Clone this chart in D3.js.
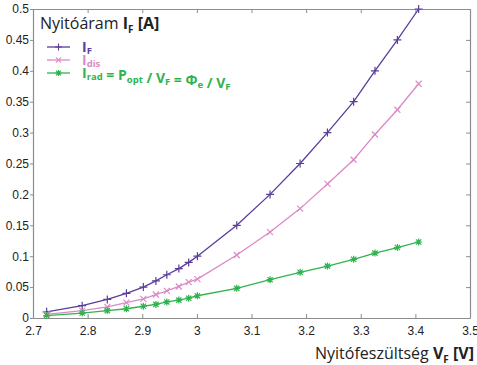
<!DOCTYPE html>
<html>
<head>
<meta charset="utf-8">
<script src="https://cdn.jsdelivr.net/npm/d3@7"></script>
<style>
  body { margin: 0; background: #fff; }
  svg { font-family: "Open Sans", sans-serif; }
  .axis path, .axis line { stroke: #8c8c8c; }
  .axis text { fill: #222; font-size: 12px; }
</style>
</head>
<body>
<div id="chart"></div>
<script>
// forward voltage (V) of each measured point
var vF = [2.725, 2.790, 2.836, 2.871, 2.902, 2.925, 2.945, 2.967, 2.985, 3.001,
          3.073, 3.134, 3.189, 3.239, 3.287, 3.326, 3.367, 3.406];
// forward current I_F (A)
var iF = [0.01, 0.02, 0.03, 0.04, 0.05, 0.06, 0.07, 0.08, 0.09, 0.10,
          0.15, 0.20, 0.25, 0.30, 0.35, 0.40, 0.45, 0.50];
// dissipated part I_dis (A)
var iDis = [0.006, 0.012, 0.018, 0.025, 0.031, 0.038, 0.044, 0.051, 0.058, 0.063,
            0.102, 0.139, 0.177, 0.217, 0.256, 0.297, 0.337, 0.379];
// radiated part I_rad (A)
var iRad = [0.004, 0.008, 0.012, 0.015, 0.019, 0.022, 0.026, 0.029, 0.032, 0.036,
            0.048, 0.062, 0.074, 0.084, 0.095, 0.105, 0.114, 0.123];

var xTicks = [2.7, 2.8, 2.9, 3.0, 3.1, 3.2, 3.3, 3.4, 3.5];
var yTicks = [0, 0.05, 0.1, 0.15, 0.2, 0.25, 0.3, 0.35, 0.4, 0.45, 0.5];

var W = 477, H = 365;
var margin = {top: 9, right: 7, bottom: 47, left: 33};
var width = W - margin.left - margin.right,
    height = H - margin.top - margin.bottom;

var svg = d3.select("#chart").append("svg")
    .attr("width", W)
    .attr("height", H);
var g = svg.append("g")
    .attr("transform", "translate(" + margin.left + "," + margin.top + ")");

var x = d3.scaleLinear().domain([2.7, 3.5]).range([0, width]);
var y = d3.scaleLinear().domain([0, 0.5]).range([height, 0]);

var fmt = function(d) { return d3.format("~g")(+d.toFixed(2)); };

// axes (box with ticks)
g.append("g").attr("class", "axis")
    .attr("transform", "translate(0," + height + ")")
    .call(d3.axisBottom(x).tickValues(xTicks).tickFormat(fmt)
        .tickSizeInner(-4).tickSizeOuter(0).tickPadding(8));
g.append("g").attr("class", "axis")
    .call(d3.axisLeft(y).tickValues(yTicks).tickFormat(fmt)
        .tickSizeInner(3).tickSizeOuter(0).tickPadding(1));
g.append("g").attr("class", "axis")
    .call(d3.axisTop(x).tickValues(xTicks).tickFormat("")
        .tickSizeInner(-4).tickSizeOuter(0));
g.append("g").attr("class", "axis")
    .attr("transform", "translate(" + width + ",0)")
    .call(d3.axisRight(y).tickValues(yTicks).tickFormat("")
        .tickSizeInner(-4).tickSizeOuter(0));
g.selectAll(".axis .domain").attr("stroke-width", 1.2);

var series = [
  {key: "F", values: iF, color: "#5a3c9a", marker: "plus"},
  {key: "dis", values: iDis, color: "#dc8ac6", marker: "cross"},
  {key: "rad", values: iRad, color: "#2fb34e", marker: "star"}
];

var line = d3.line()
    .x(function(d) { return x(d[0]); })
    .y(function(d) { return y(d[1]); });

function markerPath(type, s) {
  var p = "M" + (-s) + ",0H" + s + "M0," + (-s) + "V" + s;
  var k = s * 0.75;
  var xx = "M" + (-k) + "," + (-k) + "L" + k + "," + k + "M" + (-k) + "," + k + "L" + k + "," + (-k);
  if (type === "plus") return p;
  if (type === "cross") return xx;
  return p + xx;
}

series.forEach(function(s) {
  var pts = vF.map(function(v, i) { return [v, s.values[i]]; });
  g.append("path")
      .datum(pts)
      .attr("fill", "none")
      .attr("stroke", s.color)
      .attr("stroke-width", 1.3)
      .attr("d", line);
  g.selectAll(".m-" + s.key)
      .data(pts)
    .enter().append("path")
      .attr("class", "m-" + s.key)
      .attr("transform", function(d) { return "translate(" + x(d[0]) + "," + y(d[1]) + ")"; })
      .attr("d", markerPath(s.marker, s.marker === "star" ? 3.5 : 4))
      .attr("stroke", s.color)
      .attr("stroke-width", 1.2)
      .attr("fill", "none");
});

// y title inside the plot
var yt = svg.append("text")
    .attr("x", 40).attr("y", 29)
    .attr("fill", "#222")
    .style("font-size", "16px");
yt.append("tspan").text("Nyitóáram ");
yt.append("tspan").attr("font-weight", "bold").text("I");
yt.append("tspan").attr("font-weight", "bold").attr("dy", 4).style("font-size", "10px").text("F");
yt.append("tspan").attr("font-weight", "bold").attr("dy", -4).text(" [A]");

// x title
var xt = svg.append("text")
    .attr("x", 474).attr("y", 359)
    .attr("text-anchor", "end")
    .attr("fill", "#222")
    .style("font-size", "16px");
xt.append("tspan").text("Nyitófeszültség ");
xt.append("tspan").attr("font-weight", "bold").text("V");
xt.append("tspan").attr("font-weight", "bold").attr("dy", 4).style("font-size", "10px").text("F");
xt.append("tspan").attr("font-weight", "bold").attr("dy", -4).text(" [V]");

// legend
var legend = svg.append("g").attr("transform", "translate(47,47)");
series.forEach(function(s, i) {
  var row = legend.append("g").attr("transform", "translate(0," + (i * 13) + ")");
  row.append("line").attr("x1", 0).attr("x2", 23)
      .attr("stroke", s.color).attr("stroke-width", 1.3);
  row.append("path").attr("transform", "translate(11.5,0)")
      .attr("d", markerPath(s.marker, s.marker === "star" ? 3 : 3.5))
      .attr("stroke", s.color).attr("stroke-width", 1.1).attr("fill", "none");
  var t = row.append("text").attr("x", 35).attr("y", 4.5)
      .attr("fill", s.color).attr("font-weight", "bold")
      .style("font-size", "14px");
  function sub(txt) {
    t.append("tspan").attr("dy", 2.5).style("font-size", "9.5px").text(txt);
    t.append("tspan").attr("dy", -2.5).text("");
  }
  t.append("tspan").text("I");
  sub(s.key);
  if (s.key === "rad") {
    t.append("tspan").text(" = P");
    sub("opt");
    t.append("tspan").text(" / V");
    sub("F");
    t.append("tspan").text(" = Φ");
    sub("e");
    t.append("tspan").text(" / V");
    sub("F");
  }
});
</script>
</body>
</html>
